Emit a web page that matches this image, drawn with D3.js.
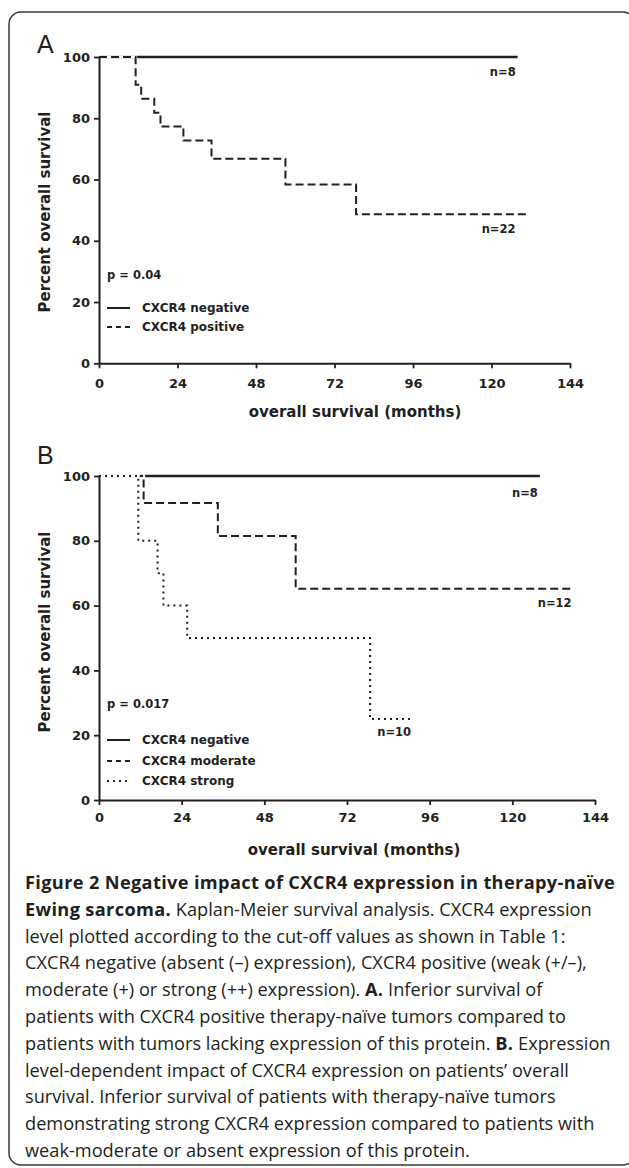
<!DOCTYPE html>
<html>
<head>
<meta charset="UTF-8">
<title>Figure 2</title>
<script src="https://cdn.jsdelivr.net/npm/d3@7"></script>
<style>
  body { margin: 0; background: #fff; }
</style>
</head>
<body>
<div id="fig"></div>
<script>

// tick labels
var monthTicks = [0, 24, 48, 72, 96, 120, 144];
var pctTicks = [0, 20, 40, 60, 80, 100];

// panel A  (months, percent survival, step points)
var aNegTime = [0, 128];
var aNegSurv = [100, 100];
var aPosTime = [0, 11.2, 12.9, 16.9, 18.8, 25.8, 34.4, 57.0, 78.6, 131];
var aPosSurv = [100, 90.9, 86.4, 81.8, 77.3, 72.7, 66.8, 58.4, 48.7, 48.7];

// panel B
var bNegTime = [0, 128];
var bNegSurv = [100, 100];
var bModTime = [0, 12.95, 34.5, 57.1, 137.2];
var bModSurv = [100, 91.7, 81.5, 65.2, 65.2];
var bStrTime = [0, 11.4, 17.0, 18.7, 25.6, 78.7, 90.3];
var bStrSurv = [100, 80, 70, 60, 50, 25, 25];

var captionLines = [
  [["Figure 2 Negative impact of CXCR4 expression in therapy-naïve", true]],
  [["Ewing sarcoma.", true], [" Kaplan-Meier survival analysis. CXCR4 expression", false]],
  [["level plotted according to the cut-off values as shown in Table 1:", false]],
  [["CXCR4 negative (absent (\u2013) expression), CXCR4 positive (weak (+/\u2013),", false]],
  [["moderate (+) or strong (++) expression). ", false], ["A.", true], [" Inferior survival of", false]],
  [["patients with CXCR4 positive therapy-naïve tumors compared to", false]],
  [["patients with tumors lacking expression of this protein. ", false], ["B.", true], [" Expression", false]],
  [["level-dependent impact of CXCR4 expression on patients\u2019 overall", false]],
  [["survival. Inferior survival of patients with therapy-naïve tumors", false]],
  [["demonstrating strong CXCR4 expression compared to patients with", false]],
  [["weak-moderate or absent expression of this protein.", false]]
];

function pts(t, s) { return t.map(function(d, i) { return [d, s[i]]; }); }

var ink = "#231f20";
var chartFont = "'DejaVu Sans', Arial, sans-serif";

var panels = [
  {
    label: "A", labelY: 53,
    x0: 99, x1: 570, yTop: 57, yBot: 363.3, tickPad: 10,
    titleX: 355, titleY: 417, yTitleY: 212,
    p: "p = 0.04", pY: 275,
    series: [
      {name: "CXCR4 negative", data: pts(aNegTime, aNegSurv), dash: null, legDash: null, n: "n=8", ndx: -2, ndy: 15, legY: 308},
      {name: "CXCR4 positive", data: pts(aPosTime, aPosSurv), dash: "8,4", legDash: "5,4", n: "n=22", ndx: -12, ndy: 15, legY: 327}
    ]
  },
  {
    label: "B", labelY: 464,
    x0: 99, x1: 595, yTop: 476, yBot: 800, tickPad: 8,
    titleX: 354, titleY: 855, yTitleY: 632,
    p: "p = 0.017", pY: 704,
    series: [
      {name: "CXCR4 negative", data: pts(bNegTime, bNegSurv), dash: null, legDash: null, n: "n=8", ndx: -2, ndy: 17, legY: 740},
      {name: "CXCR4 moderate", data: pts(bModTime, bModSurv), dash: "8,4", legDash: "5,4", n: "n=12", ndx: 0, ndy: 14.5, legY: 761},
      {name: "CXCR4 strong", data: pts(bStrTime, bStrSurv), dash: "2,4", legDash: "2,4", n: "n=10", ndx: 1, ndy: 13, legY: 781}
    ]
  }
];

var svg = d3.select("#fig").append("svg")
    .attr("width", 629)
    .attr("height", 1168);

// rounded frame
svg.append("rect")
  .attr("x", 9).attr("y", 12)
  .attr("width", 626).attr("height", 1153)
  .attr("rx", 12)
  .attr("fill", "none")
  .attr("stroke", "#3a3a3a")
  .attr("stroke-width", 1.5);

panels.forEach(function(p) {
  var x = d3.scaleLinear().domain([0, 144]).range([p.x0, p.x1]);
  var y = d3.scaleLinear().domain([0, 100]).range([p.yBot, p.yTop]);
  var g = svg.append("g");

  g.append("text")
    .attr("x", 37).attr("y", p.labelY)
    .attr("font-family", "'Liberation Sans', Arial, sans-serif")
    .attr("font-size", 25)
    .attr("fill", ink)
    .text(p.label);

  var line = d3.line()
    .x(function(d) { return x(d[0]); })
    .y(function(d) { return y(d[1]); })
    .curve(d3.curveStepAfter);

  // curves (broken lines punch white gaps into whatever lies under them)
  p.series.forEach(function(s) {
    if (s.dash) {
      g.append("path")
        .datum(s.data)
        .attr("d", line)
        .attr("fill", "none")
        .attr("stroke", "#fff")
        .attr("stroke-width", 3);
    }
    g.append("path")
      .datum(s.data)
      .attr("d", line)
      .attr("fill", "none")
      .attr("stroke", ink)
      .attr("stroke-width", s.dash ? 2 : 2.3)
      .attr("stroke-dasharray", s.dash);
  });

  var yAxis = g.append("g")
    .attr("transform", "translate(" + p.x0 + ",0)")
    .call(d3.axisLeft(y).tickValues(pctTicks).tickSize(5).tickSizeOuter(0).tickPadding(4));
  var xAxis = g.append("g")
    .attr("transform", "translate(0," + p.yBot + ")")
    .call(d3.axisBottom(x).tickValues(monthTicks).tickSize(5).tickSizeOuter(0).tickPadding(p.tickPad));

  [yAxis, xAxis].forEach(function(a) {
    a.select(".domain").attr("stroke", ink).attr("stroke-width", 2);
    a.selectAll(".tick line").attr("stroke", ink).attr("stroke-width", 1.8);
    a.selectAll(".tick text")
      .attr("fill", ink)
      .attr("font-family", chartFont)
      .attr("font-weight", "bold")
      .attr("font-size", 13);
  });

  g.append("text")
    .attr("x", p.titleX).attr("y", p.titleY)
    .attr("text-anchor", "middle")
    .attr("font-family", chartFont).attr("font-weight", "bold").attr("font-size", 15)
    .attr("fill", ink)
    .text("overall survival (months)");

  g.append("text")
    .attr("transform", "translate(50," + p.yTitleY + ") rotate(-90)")
    .attr("text-anchor", "middle")
    .attr("font-family", chartFont).attr("font-weight", "bold").attr("font-size", 15)
    .attr("fill", ink)
    .text("Percent overall survival");

  p.series.forEach(function(s) {
    var last = s.data[s.data.length - 1];
    g.append("text")
      .attr("x", x(last[0]) + s.ndx)
      .attr("y", y(last[1]) + s.ndy)
      .attr("dy", "0.36em")
      .attr("text-anchor", "end")
      .attr("font-family", chartFont).attr("font-weight", "bold").attr("font-size", 11.5)
      .attr("fill", ink)
      .text(s.n);

    // legend
    g.append("line")
      .attr("x1", 107).attr("x2", 130)
      .attr("y1", s.legY).attr("y2", s.legY)
      .attr("stroke", ink).attr("stroke-width", 2)
      .attr("stroke-dasharray", s.legDash);
    g.append("text")
      .attr("x", 142).attr("y", s.legY)
      .attr("dy", "0.36em")
      .attr("font-family", chartFont).attr("font-weight", "bold").attr("font-size", 12)
      .attr("fill", ink)
      .text(s.name);
  });

  g.append("text")
    .attr("x", 107).attr("y", p.pY)
    .attr("dy", "0.36em")
    .attr("font-family", chartFont).attr("font-weight", "bold").attr("font-size", 11.5)
    .attr("fill", ink)
    .text(p.p);
});

// caption
var cap = svg.append("g")
  .attr("font-family", "'Open Sans', 'Noto Sans', sans-serif")
  .attr("font-size", 18.2)
  .attr("fill", ink);

captionLines.forEach(function(segs, i) {
  var t = cap.append("text")
    .attr("x", 25)
    .attr("y", 889 + i * 26.8);
  segs.forEach(function(s) {
    t.append("tspan")
      .attr("font-weight", s[1] ? "bold" : "normal")
      .attr("letter-spacing", s[1] ? 0.35 : 0)
      .text(s[0]);
  });
});

</script>
</body>
</html>
